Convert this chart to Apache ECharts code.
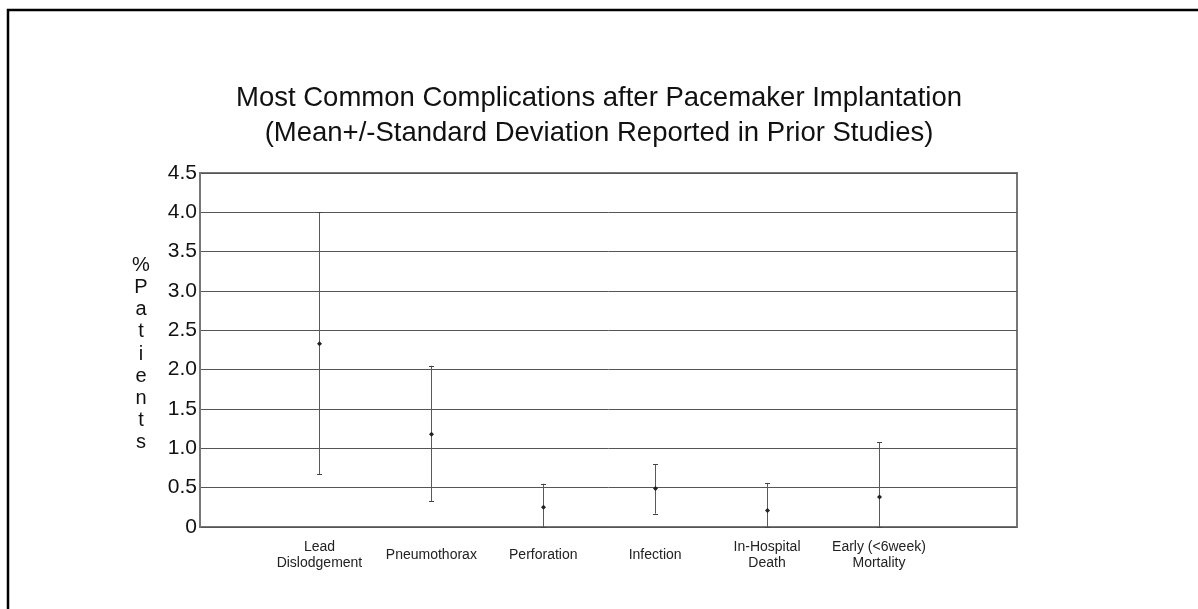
<!DOCTYPE html>
<html>
<head>
<meta charset="utf-8">
<script src="https://cdn.jsdelivr.net/npm/echarts@6/dist/echarts.min.js"></script>
<style>
  html, body { margin: 0; padding: 0; background: #fff; }
  #main { width: 1198px; height: 609px; }
</style>
</head>
<body>
<div id="main"></div>
<script>
// complications (x axis)
const categories = ['Lead\nDislodgement', 'Pneumothorax', 'Perforation', 'Infection', 'In-Hospital\nDeath', 'Early (<6week)\nMortality'];
// mean and mean+/-SD, % patients
const meanValues = [2.33, 1.18, 0.25, 0.49, 0.21, 0.38];
const lowValues = [0.67, 0.33, 0, 0.17, 0, 0];
const highValues = [4.0, 2.05, 0.55, 0.80, 0.56, 1.08];
// y axis
const yMin = 0;
const yMax = 4.5;
const yStep = 0.5;

const font = 'Arial, "Liberation Sans", sans-serif';
const chart = echarts.init(document.getElementById('main'));

const errData = categories.map((c, i) => [i, lowValues[i], highValues[i], meanValues[i]]);

// draw one error bar with its mean point
const renderErr = function (params, api) {
  const i = api.value(0);
  const lo = api.coord([i, api.value(1)]);
  const hi = api.coord([i, api.value(2)]);
  const mid = api.coord([i, api.value(3)]);
  const x = Math.round(lo[0]) + 0.5;
  const capStyle = { stroke: '#444', lineWidth: 1 };
  return {
    type: 'group',
    children: [
      { type: 'line', shape: { x1: x, y1: lo[1], x2: x, y2: hi[1] }, style: { stroke: '#5a5a5a', lineWidth: 1 } },
      { type: 'line', shape: { x1: x - 2.5, y1: Math.round(hi[1]) + 0.5, x2: x + 2.5, y2: Math.round(hi[1]) + 0.5 }, style: capStyle },
      { type: 'line', shape: { x1: x - 2.5, y1: Math.round(lo[1]) + 0.5, x2: x + 2.5, y2: Math.round(lo[1]) + 0.5 }, style: capStyle },
      { type: 'polygon', shape: { points: [[x, mid[1] - 2.5], [x + 2.5, mid[1]], [x, mid[1] + 2.5], [x - 2.5, mid[1]]] }, style: { fill: '#222' } },
    ],
  };
};

const options = {
  animation: false,
  backgroundColor: '#fff',
  title: {
    text: 'Most Common Complications after Pacemaker Implantation\n(Mean+/-Standard Deviation Reported in Prior Studies)',
    left: 'center',
    top: 76,
    textStyle: { fontFamily: font, fontSize: 27.5, fontWeight: 'normal', color: '#111', lineHeight: 35, align: 'center' },
  },
  graphic: [
    {
      // outer frame of the figure
      type: 'rect',
      shape: { x: 8, y: 10, width: 1260, height: 700 },
      style: { fill: 'none', stroke: '#000', lineWidth: 2.5 },
      silent: true,
    },
    {
      type: 'text',
      x: 141,
      y: 354,
      style: {
        text: '%\nP\na\nt\ni\ne\nn\nt\ns',
        fontFamily: font,
        fontSize: 20,
        lineHeight: 22.2,
        fill: '#111',
        align: 'center',
        verticalAlign: 'middle',
      },
    },
  ],
  grid: [
    // plot frame, grid lines, y labels
    { left: 200, right: 181, top: 173, bottom: 82, show: true, borderColor: '#777', borderWidth: 2, backgroundColor: 'transparent' },
    // category positions
    { left: 263.5, right: 263.1, top: 173, bottom: 82 },
  ],
  xAxis: [
    { gridIndex: 0, type: 'value', min: 0, max: 1, show: false },
    {
      gridIndex: 1,
      type: 'category',
      data: categories,
      axisLine: { show: false },
      axisTick: { show: false },
      axisLabel: {
        interval: 0,
        margin: 28,
        verticalAlign: 'middle',
        fontFamily: font,
        fontSize: 14,
        lineHeight: 16,
        color: '#222',
      },
    },
  ],
  yAxis: [
    {
      gridIndex: 0,
      type: 'value',
      min: yMin,
      max: yMax,
      interval: yStep,
      axisLine: { show: true, lineStyle: { color: '#777', width: 2 } },
      axisTick: { show: false },
      splitLine: { show: true, lineStyle: { color: '#555', width: 1 } },
      axisLabel: {
        margin: 3,
        fontFamily: font,
        fontSize: 21,
        color: '#111',
        formatter: (v) => (v === 0 ? '0' : v.toFixed(1)),
      },
    },
    { gridIndex: 1, type: 'value', min: yMin, max: yMax, show: false },
  ],
  series: [
    {
      type: 'custom',
      xAxisIndex: 1,
      yAxisIndex: 1,
      renderItem: renderErr,
      encode: { x: 0, y: [1, 2, 3] },
      data: errData,
      z: 5,
    },
  ],
};
chart.setOption(options);
</script>
</body>
</html>
